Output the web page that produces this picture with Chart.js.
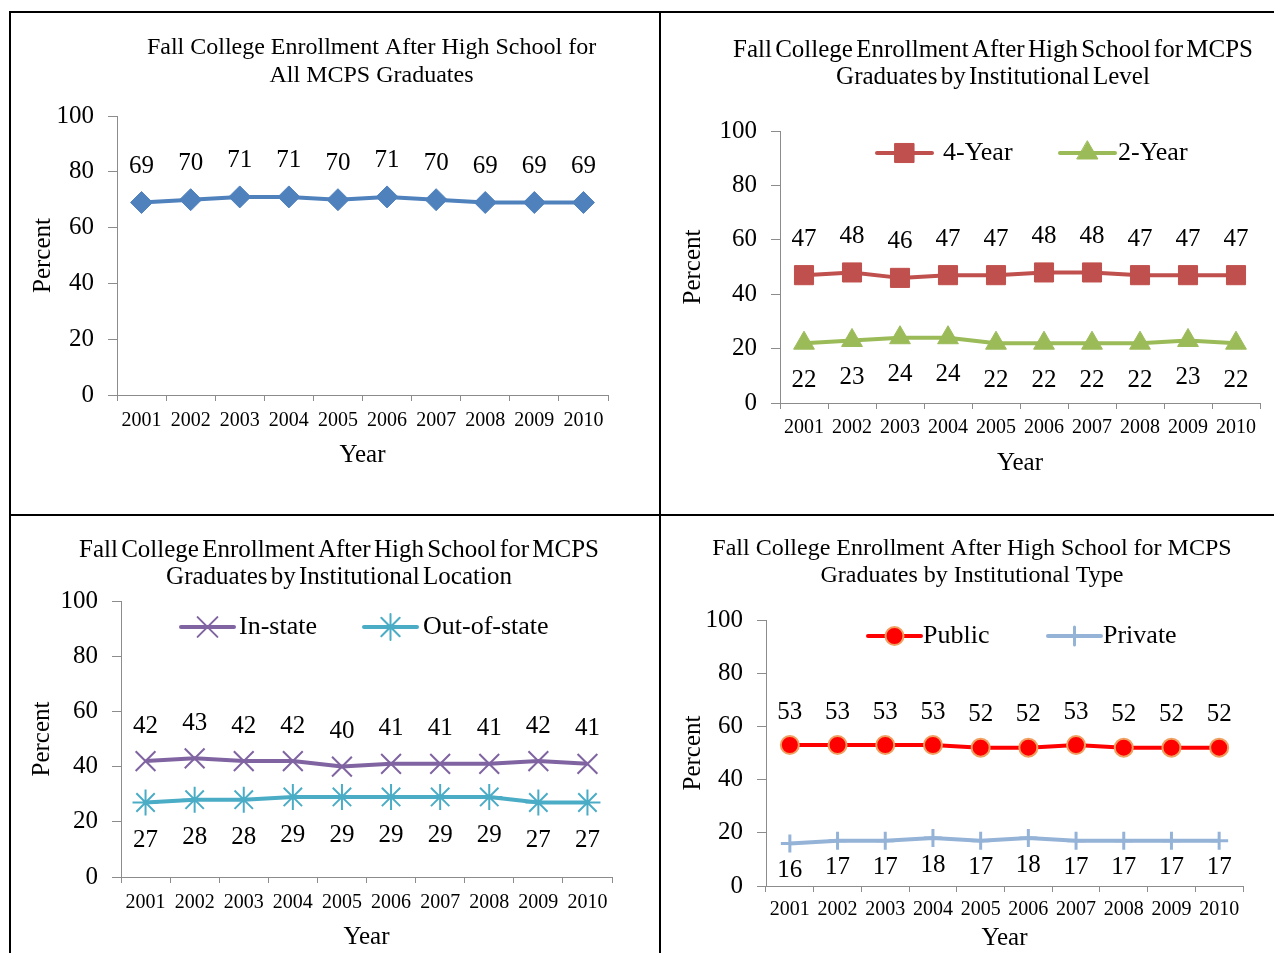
<!DOCTYPE html>
<html>
<head>
<meta charset="utf-8">
<script src="https://cdn.jsdelivr.net/npm/chart.js@4.4.1/dist/chart.umd.min.js"></script>
<style>
html, body { margin: 0; padding: 0; background: #fff; }
body { width: 1275px; height: 953px; position: relative; overflow: hidden; }
.rule { position: absolute; background: #000; }
canvas { position: absolute; }
</style>
</head>
<body>
<div class="rule" style="left:9px;top:11px;width:1265px;height:2px"></div>
<div class="rule" style="left:9px;top:11px;width:2px;height:942px"></div>
<div class="rule" style="left:659px;top:11px;width:2px;height:942px"></div>
<div class="rule" style="left:9px;top:514px;width:1265px;height:2px"></div>
<canvas id="c1" width="648" height="501" style="left:11px;top:13px"></canvas>
<canvas id="c2" width="614" height="501" style="left:661px;top:13px"></canvas>
<canvas id="c3" width="648" height="437" style="left:11px;top:516px"></canvas>
<canvas id="c4" width="614" height="437" style="left:661px;top:516px"></canvas>
<script>
const years = ['2001', '2002', '2003', '2004', '2005', '2006', '2007', '2008', '2009', '2010'];
const allGrads = [69, 70, 71, 71, 70, 71, 70, 69, 69, 69];
const fourYear = [47, 48, 46, 47, 47, 48, 48, 47, 47, 47];
const twoYear = [22, 23, 24, 24, 22, 22, 22, 22, 23, 22];
const inState = [42, 43, 42, 42, 40, 41, 41, 41, 42, 41];
const outOfState = [27, 28, 28, 29, 29, 29, 29, 29, 27, 27];
const publicInst = [53, 53, 53, 53, 52, 52, 53, 52, 52, 52];
const privateInst = [16, 17, 17, 18, 17, 18, 17, 17, 17, 17];

const serif = "'Liberation Serif', 'Times New Roman', serif";
const axisGray = '#8c8c8c';
Chart.defaults.font.family = serif;
Chart.defaults.color = '#000';

// titles, in-plot legend and value labels, drawn the way Excel places them
const extrasFor = (cfg) => ({
	id: 'extras',
	afterDatasetsDraw(chart) {
		const ctx = chart.ctx;
		ctx.save();
		ctx.fillStyle = '#000';
		ctx.textAlign = 'center';
		ctx.textBaseline = 'middle';
		ctx.font = `25px ${serif}`;
		chart.data.datasets.forEach((ds, i) => {
			chart.getDatasetMeta(i).data.forEach((pt, j) => {
				ctx.fillText(String(ds.data[j]), pt.x, pt.y + ds.labelShift);
			});
		});
		const t = cfg.title;
		ctx.font = `${t.size}px ${serif}`;
		if (t.tight && 'wordSpacing' in ctx) ctx.wordSpacing = '-3px';
		t.lines.forEach((ln, k) => ctx.fillText(ln, t.cx, t.y + k * t.gap));
		if ('wordSpacing' in ctx) ctx.wordSpacing = '0px';
		const lg = cfg.legend;
		if (lg) {
			lg.items.forEach((it, i) => {
				const ds = chart.data.datasets[i];
				ctx.strokeStyle = ds.borderColor;
				ctx.lineWidth = ds.borderWidth;
				ctx.lineCap = 'round';
				ctx.beginPath();
				ctx.moveTo(it.x, lg.y);
				ctx.lineTo(it.x + lg.len, lg.y);
				ctx.stroke();
				ctx.fillStyle = ds.pointBackgroundColor;
				ctx.strokeStyle = ds.pointBorderColor;
				ctx.lineWidth = ds.pointBorderWidth;
				Chart.helpers.drawPoint(ctx, {
					pointStyle: ds.pointStyle,
					radius: ds.pointRadius,
					borderWidth: ds.pointBorderWidth,
					rotation: 0
				}, it.x + lg.len / 2, lg.y);
				ctx.fillStyle = '#000';
				ctx.textAlign = 'left';
				ctx.font = `26px ${serif}`;
				ctx.fillText(ds.label, it.tx, lg.y);
			});
		}
		ctx.restore();
	}
});

const series = (label, data, color, style, radius, shift, more) => Object.assign({
	label: label,
	data: data,
	borderColor: color,
	backgroundColor: color,
	borderWidth: 4,
	borderJoinStyle: 'round',
	tension: 0,
	pointStyle: style,
	pointRadius: radius,
	pointBackgroundColor: color,
	pointBorderColor: color,
	pointBorderWidth: 1,
	labelShift: shift
}, more || {});

const makeChart = (id, box, datasets, cfg) => {
	new Chart(document.getElementById(id), {
		type: 'line',
		data: { labels: years, datasets: datasets },
		options: {
			responsive: false,
			animation: false,
			events: [],
			layout: { padding: { left: 0, top: box.top, right: box.right, bottom: 0 } },
			plugins: {
				legend: { display: false },
				tooltip: { enabled: false },
				title: { display: false }
			},
			scales: {
				x: {
					offset: true,
					grid: { offset: true, drawOnChartArea: false, tickLength: 6, color: axisGray },
					border: { color: axisGray },
					ticks: { font: { size: 20 }, padding: box.xPad, autoSkip: false, maxRotation: 0, color: '#000' },
					title: { display: true, text: 'Year', font: { size: 25 }, color: '#000', padding: { top: 0, bottom: box.xTitle } },
					afterFit: s => { s.height = box.xh; }
				},
				y: {
					min: 0,
					max: 100,
					grid: { drawOnChartArea: false, tickLength: 9, color: axisGray },
					border: { color: axisGray },
					ticks: { stepSize: 20, font: { size: 25 }, padding: 14, color: '#000' },
					title: { display: true, text: 'Percent', font: { size: 25 }, color: '#000', padding: { top: box.yTitle, bottom: 0 } },
					afterFit: s => { s.width = box.yw; }
				}
			}
		},
		plugins: [extrasFor(cfg)]
	});
};

makeChart('c1',
	{ top: 103, right: 51, yw: 106, xh: 119, xPad: 8, xTitle: 44, yTitle: 17 },
	[series('All MCPS Graduates', allGrads, '#4F81BD', 'rectRot', 11, -36)],
	{ title: { lines: ['Fall College Enrollment After High School for', 'All MCPS Graduates'], cx: 360.5, y: 35, gap: 28, size: 24 } });

makeChart('c2',
	{ top: 118, right: 15, yw: 119, xh: 111, xPad: 7, xTitle: 36, yTitle: 17 },
	[
		series('4-Year', fourYear, '#C0504D', 'rect', 13.5, -36),
		series('2-Year', twoYear, '#9BBB59', 'triangle', 12, 37)
	],
	{
		title: { lines: ['Fall College Enrollment After High School for MCPS', 'Graduates by Institutional Level'], cx: 332, y: 37.5, gap: 27, size: 25, tight: true },
		legend: { y: 140, len: 55, items: [{ x: 216, tx: 282 }, { x: 399, tx: 457 }] }
	});

makeChart('c3',
	{ top: 85, right: 47, yw: 110, xh: 76, xPad: 8, xTitle: 1, yTitle: 16 },
	[
		series('In-state', inState, '#8064A2', 'crossRot', 14, -35, { pointBorderWidth: 2 }),
		series('Out-of-state', outOfState, '#4BACC6', 'star', 13, 38, { pointBorderWidth: 2 })
	],
	{
		title: { lines: ['Fall College Enrollment After High School for MCPS', 'Graduates by Institutional Location'], cx: 328, y: 34.5, gap: 27, size: 25, tight: true },
		legend: { y: 111, len: 53, items: [{ x: 170, tx: 228 }, { x: 353, tx: 412 }] }
	});

makeChart('c4',
	{ top: 104, right: 32, yw: 105, xh: 67, xPad: 6, xTitle: 0, yTitle: 17 },
	[
		series('Public', publicInst, '#FF0000', 'circle', 9, -33, { pointBorderColor: '#F0A060', pointBorderWidth: 2 }),
		series('Private', privateInst, '#95B3D7', 'cross', 9, 27, { pointBorderWidth: 3 })
	],
	{
		title: { lines: ['Fall College Enrollment After High School for MCPS', 'Graduates by Institutional Type'], cx: 311, y: 32.5, gap: 27, size: 24 },
		legend: { y: 120, len: 53, items: [{ x: 207, tx: 262 }, { x: 387, tx: 442 }] }
	});
</script>
</body>
</html>
